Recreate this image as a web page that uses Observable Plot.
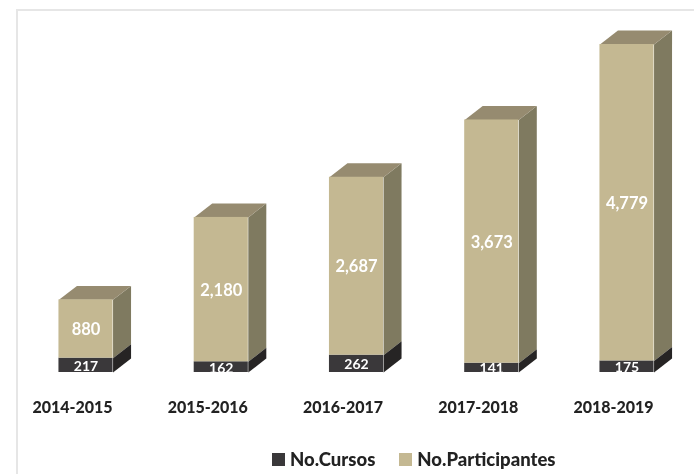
<!DOCTYPE html>
<html>
<head>
<meta charset="utf-8">
<script src="https://cdn.jsdelivr.net/npm/d3@7"></script>
<script src="https://cdn.jsdelivr.net/npm/@observablehq/plot@0.6"></script>
<style>
  html, body { margin: 0; padding: 0; background: #fff; }
  #wrap { position: relative; width: 694px; height: 474px; overflow: hidden; font-family: Lato, "Open Sans", sans-serif; filter: blur(0.45px); }
  #frame { position: absolute; left: 16px; top: 9px; width: 700px; height: 500px; border: 2px solid #e6e6e6; box-sizing: border-box; }
  #chart { position: absolute; left: 0; top: 0; }
  #legend { position: absolute; top: 449px; left: 272px; display: flex; align-items: center; font-weight: 900; font-size: 18.5px; color: #222; line-height: 20px; }
  #legend i { display: inline-block; width: 13px; height: 13px; margin-right: 5px; }
  #legend span { display: inline-flex; align-items: center; margin-right: 24px; white-space: nowrap; }
</style>
</head>
<body>
<div id="wrap">
  <div id="frame"></div>
  <div id="chart"></div>
  <div id="legend">
    <span><i style="background:#3a383a"></i>No.Cursos</span>
    <span><i style="background:#c4b892"></i>No.Participantes</span>
  </div>
</div>
<script>
const periods = ["2014-2015", "2015-2016", "2016-2017", "2017-2018", "2018-2019"];
const cursos = [217, 162, 262, 141, 175];
const participantes = [880, 2180, 2687, 3673, 4779];

const halfWidth = 0.2, depthX = 0.133, depthY = 211;
const rows = periods.map((p, i) => ({
  i, p, c: cursos[i], v: participantes[i],
  x1: i - halfWidth, x2: i + halfWidth, top: cursos[i] + participantes[i]
}));
const side = (y0, y1, key) => rows.flatMap(d => [
  {id: key + d.i, x: d.x2, y: y0(d)},
  {id: key + d.i, x: d.x2 + depthX, y: y0(d) + depthY},
  {id: key + d.i, x: d.x2 + depthX, y: y1(d) + depthY},
  {id: key + d.i, x: d.x2, y: y1(d)}
]);
const topFace = rows.flatMap(d => [
  {id: d.i, x: d.x1, y: d.top},
  {id: d.i, x: d.x2, y: d.top},
  {id: d.i, x: d.x2 + depthX, y: d.top + depthY},
  {id: d.i, x: d.x1 + depthX, y: d.top + depthY}
]);
const labelStyle = {fill: "white", fontFamily: "Lato, sans-serif", textAnchor: "middle", dy: 1};

const chart = Plot.plot({
  width: 694, height: 440,
  marginTop: 0, marginLeft: 0, marginRight: 0, marginBottom: 68,
  x: {type: "linear", domain: [0, 4], range: [85.5, 626.5]},
  y: {domain: [0, 4954], range: [372, 44], axis: null},
  style: {background: "transparent", overflow: "visible"},
  marks: [
    Plot.line(side(d => d.c, d => d.top, "s"), {x: "x", y: "y", z: "id", fill: "#7f7a60", stroke: "none"}),
    Plot.line(side(() => 0, d => d.c, "d"), {x: "x", y: "y", z: "id", fill: "#262424", stroke: "none"}),
    Plot.line(topFace, {x: "x", y: "y", z: "id", fill: "#968b70", stroke: "none"}),
    Plot.rect(rows, {x1: "x1", x2: "x2", y1: 0, y2: "c", fill: "#3a383a"}),
    Plot.rect(rows, {x1: "x1", x2: "x2", y1: "c", y2: "top", fill: "#c4b892"}),
    Plot.text(rows, {x: "i", y: d => d.c / 2, text: d => d3.format(",")(d.c), fontSize: 14, fontWeight: 700, ...labelStyle}),
    Plot.text(rows, {x: "i", y: d => d.c + d.v / 2, text: d => d3.format(",")(d.v), fontSize: 16.5, fontWeight: 700, ...labelStyle}),
    Plot.axisX({
      ticks: periods.map((p, i) => i),
      tickFormat: i => periods[i],
      tickSize: 0, tickPadding: 29, dx: -13.5,
      label: null, fontSize: 16, fontWeight: 900, fontFamily: "Lato, sans-serif", fill: "#222"
    })
  ]
});
document.getElementById("chart").append(chart);
</script>
</body>
</html>
